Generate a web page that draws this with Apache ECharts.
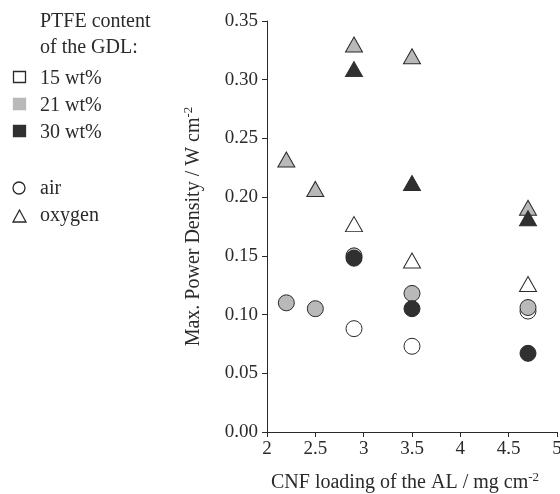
<!DOCTYPE html>
<html>
  <head>
    <meta charset="utf-8" />
    <title>Max. Power Density vs CNF loading</title>
    <script src="https://cdn.jsdelivr.net/npm/echarts@6/dist/echarts.min.js"></script>
  </head>
  <body style="margin: 0; padding: 0; border: 0">
    <div id="main" style="width: 560px; height: 494px"></div>
    <script type="text/javascript">
      // CNF loading (mg cm-2) and max power density (W cm-2)
      var air15 = [[2.9, 0.088], [3.5, 0.073], [4.7, 0.103]];
      var air21 = [[2.2, 0.110], [2.5, 0.105], [2.9, 0.150], [3.5, 0.118], [4.7, 0.106]];
      var air30 = [[2.9, 0.148], [3.5, 0.105], [4.7, 0.067]];
      var oxy15 = [[2.9, 0.177], [3.5, 0.146], [4.7, 0.126]];
      var oxy21 = [[2.2, 0.232], [2.5, 0.207], [2.9, 0.330], [3.5, 0.320], [4.7, 0.191]];
      var oxy30 = [[2.9, 0.309], [3.5, 0.212], [4.7, 0.182]];

      var ptfeLabels = ["15 wt%", "21 wt%", "30 wt%"];
      var ptfeColors = ["#ffffff", "#b9b9b9", "#303030"];
      var gasLabels = ["air", "oxygen"];

      var font = "Liberation Serif";
      var ink = "#2a2a2a";
      var fs = 20;

      var myChart = echarts.init(document.getElementById("main"));

      function scatter(name, data, fill, symbol, z) {
        return {
          name: name,
          type: "scatter",
          data: data,
          symbol: symbol,
          symbolSize: symbol === "circle" ? 16 : [17, 15],
          z: z,
          itemStyle: { color: fill, borderColor: ink, borderWidth: 1, opacity: 1 },
        };
      }

      // legend drawn by hand: colour squares for PTFE, shapes for the gas
      var txt = function (s, top) {
        return { type: "text", left: 40, top: top, style: { text: s, font: fs + "px " + font, fill: ink } };
      };
      var legend = [txt("PTFE content", 12), txt("of the GDL:", 38)];
      ptfeLabels.forEach(function (lab, i) {
        legend.push({
          type: "rect",
          shape: { x: 13.5, y: 71.5 + i * 27, width: 12, height: 11 },
          style: { fill: ptfeColors[i], stroke: i === 0 ? ink : ptfeColors[i], lineWidth: 1.3 },
        });
        legend.push(txt(lab, 69 + i * 27));
      });
      legend.push({ type: "circle", shape: { cx: 19, cy: 188, r: 6 }, style: { fill: "#fff", stroke: ink, lineWidth: 1.3 } });
      legend.push({ type: "polygon", shape: { points: [[19.5, 210], [13, 222], [26, 222]] }, style: { fill: "#fff", stroke: ink, lineWidth: 1.3 } });
      gasLabels.forEach(function (lab, i) {
        legend.push(txt(lab, 179 + i * 27));
      });

      var axisCommon = {
        axisLine: { show: true, lineStyle: { color: ink, width: 1 } },
        axisTick: { show: true, inside: false, length: 5, lineStyle: { color: ink } },
        splitLine: { show: false },
        nameLocation: "middle",
      };
      var nameStyle = function (pad) {
        return {
          fontFamily: font,
          fontSize: fs,
          color: ink,
          padding: pad,
          rich: { sup: { fontFamily: font, fontSize: 13, color: ink, padding: [0, 0, 10, 0] } },
        };
      };
      var tickStyle = { fontFamily: font, fontSize: 19, color: ink };

      myChart.setOption({
        backgroundColor: "#ffffff",
        animation: false,
        grid: { left: 267, right: 3, top: 21, bottom: 62, containLabel: false, outerBoundsMode: "none" },
        graphic: legend,
        xAxis: Object.assign({}, axisCommon, {
          type: "value",
          min: 2,
          max: 5,
          interval: 0.5,
          name: "CNF loading of the AL / mg cm{sup|-2}",
          nameGap: 39,
          nameTextStyle: nameStyle([0, 14, 0, 0]),
          axisLabel: Object.assign({ margin: 8 }, tickStyle),
        }),
        yAxis: Object.assign({}, axisCommon, {
          type: "value",
          min: 0,
          max: 0.35,
          interval: 0.05,
          name: "Max. Power Density / W cm{sup|-2}",
          nameGap: 62,
          nameTextStyle: nameStyle(0),
          axisLabel: Object.assign(
            {
              margin: 9,
              formatter: function (v) { return v.toFixed(2); },
            },
            tickStyle
          ),
        }),
        series: [
          scatter("air 15", air15, ptfeColors[0], "circle", 2),
          scatter("oxygen 15", oxy15, ptfeColors[0], "triangle", 2),
          scatter("air 21", air21, ptfeColors[1], "circle", 3),
          scatter("oxygen 21", oxy21, ptfeColors[1], "triangle", 3),
          scatter("air 30", air30, ptfeColors[2], "circle", 4),
          scatter("oxygen 30", oxy30, ptfeColors[2], "triangle", 4),
        ],
      });
    </script>
  </body>
</html>
